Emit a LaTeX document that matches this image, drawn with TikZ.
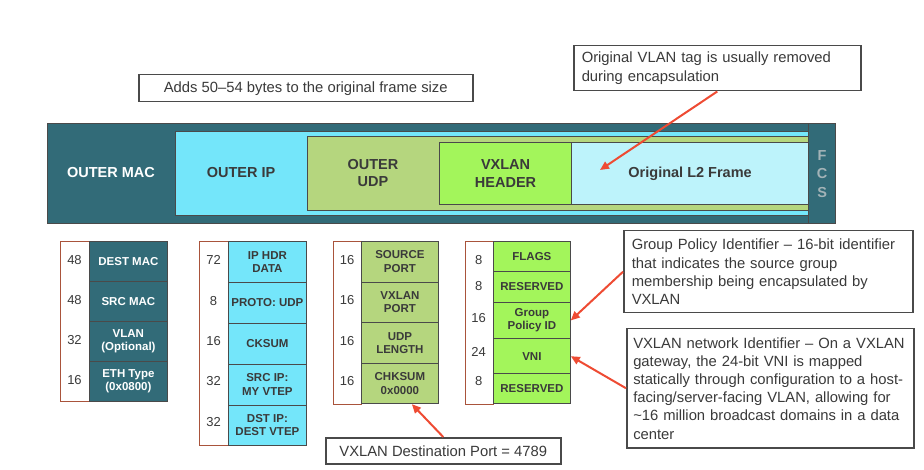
\documentclass[tikz,border=0pt]{standalone}
\usepackage{fontspec}
\setmainfont{Liberation Sans}
\usetikzlibrary{arrows.meta}
\definecolor{macteal}{HTML}{326B78}
\definecolor{ipcyan}{HTML}{74E6FA}
\definecolor{udpolive}{HTML}{B5D67E}
\definecolor{vxgreen}{HTML}{A3F55B}
\definecolor{lframe}{HTML}{BDF3FB}
\definecolor{notered}{HTML}{EE4B33}
\definecolor{bitsred}{HTML}{A9533B}
\definecolor{edgegray}{HTML}{4A4A4A}
\definecolor{textgray}{HTML}{3A3A3A}
\definecolor{fcsgray}{HTML}{A3B3B7}
\begin{document}
\begin{tikzpicture}
[x=1pt,y=-1pt,
  bardecorate/.style={draw=edgegray,line width=1.2pt,anchor=north west,inner sep=0pt},%
  barlabel/.style={font=\fontsize{14.5}{17.5}\selectfont\bfseries,text=textgray,align=center},%
  bitsdecorate/.style={draw=bitsred,line width=0.8pt,fill=white,anchor=north west,minimum width=29,inner sep=0pt},%
  celldecorate/.style={draw=edgegray,line width=0.8pt,anchor=north west,inner sep=0pt,align=center,
    font=\fontsize{11.5}{13.5}\selectfont\bfseries,text=textgray},%
  bitsnum/.style={font=\fontsize{13}{15}\selectfont,text=textgray},%
  notedecorate/.style={draw=edgegray,line width=1.5pt,fill=white,anchor=north west,
    font=\fontsize{14.8}{18.2}\selectfont,text=textgray},%
  arrowdecorate/.style={draw=notered,line width=2pt,-{Triangle[length=9pt,width=8pt]}}]
\useasboundingbox (0,0) rectangle (924,470);
%% the encapsulated frame, layer by layer
\node[bardecorate,fill=macteal,minimum width=788,minimum height=100] (frame) at (47,123) {};
\node[bardecorate,fill=ipcyan,minimum width=633,minimum height=84] (outerip) at (175,131) {};
\node[bardecorate,fill=udpolive,minimum width=501,minimum height=74] (outerudp) at (307,136) {};
\node[bardecorate,fill=vxgreen,minimum width=132,minimum height=62,barlabel] (vxheader) at (439,142) {VXLAN\\HEADER};
\node[bardecorate,fill=lframe,minimum width=237,minimum height=62,barlabel] (l2frame) at (571,142) {Original L2 Frame};
\node[bardecorate,fill=macteal,minimum width=27,minimum height=100,barlabel,text=fcsgray,
  font=\fontsize{14.5}{18.5}\selectfont\bfseries] (fcs) at (808,123) {F\\C\\S};
\node[barlabel,text=white] (maclabel) at (111,173) {OUTER MAC};
\node[barlabel] (iplabel) at (241,173) {OUTER IP};
\node[barlabel] (udplabel) at (373,173) {OUTER\\UDP};
%% outer MAC fields
\node[bitsdecorate,minimum height=160] (macbits) at (60,241) {};
\foreach \name/\rowtop/\rowh/\bits/\ny/\field in {mac1/241/40/48/260/DEST MAC,
  mac2/281/40/48/300/SRC MAC, mac3/321/40/32/340/VLAN\\(Optional),
  mac4/361/40/16/380/ETH Type\\(0x0800)}
{
  \node[celldecorate,fill=macteal,text=white,minimum width=78,minimum height=\rowh] (\name) at (89,\rowtop) {\field};
  \node[bitsnum] (\name-bits) at (74.5,\ny) {\bits};
}
%% outer IP fields
\node[bitsdecorate,minimum height=204] (ipbits) at (199,241) {};
\foreach \name/\rowtop/\rowh/\bits/\ny/\field in {ip1/241/41/72/260/IP HDR\\DATA,
  ip2/282/41/8/301/PROTO: UDP, ip3/323/41/16/341/CKSUM,
  ip4/364/40.5/32/381/SRC IP:\\MY VTEP, ip5/404.5/40.5/32/422/DST IP:\\DEST VTEP}
{
  \node[celldecorate,fill=ipcyan,minimum width=78,minimum height=\rowh] (\name) at (228,\rowtop) {\field};
  \node[bitsnum] (\name-bits) at (213.5,\ny) {\bits};
}
%% outer UDP fields
\node[bitsdecorate,minimum height=162.5,minimum width=28] (udpbits) at (333,241) {};
\foreach \name/\rowtop/\rowh/\bits/\ny/\field in {udp1/241/40.6/16/260/SOURCE\\PORT,
  udp2/281.6/40.6/16/300.5/VXLAN\\PORT, udp3/322.2/40.6/16/341/UDP\\LENGTH,
  udp4/362.8/40.6/16/381/CHKSUM\\0x0000}
{
  \node[celldecorate,fill=udpolive,minimum width=77,minimum height=\rowh] (\name) at (361,\rowtop) {\field};
  \node[bitsnum] (\name-bits) at (347,\ny) {\bits};
}
%% VXLAN header fields
\node[bitsdecorate,minimum height=162.5,minimum width=28.5] (vxbits) at (464.5,241) {};
\foreach \name/\rowtop/\rowh/\bits/\ny/\field in {vx1/241/30/8/260/FLAGS,
  vx2/271/30.7/8/286.5/RESERVED, vx3/301.7/36.6/16/318/Group\\Policy ID,
  vx4/338.3/35/24/352/VNI, vx5/373.3/30/8/381/RESERVED}
{
  \node[celldecorate,fill=vxgreen,minimum width=77,minimum height=\rowh] (\name) at (493,\rowtop) {\field};
  \node[bitsnum] (\name-bits) at (478.7,\ny) {\bits};
}
%% notes
\node[notedecorate,minimum width=334,minimum height=27] (sizenote) at (138,74) {Adds 50–54 bytes to the original frame size};
\node[notedecorate,minimum height=45,text width=271,inner xsep=8,align=left] (vlannote) at (573,45)
  {Original VLAN tag is usually removed\\during encapsulation};
\node[notedecorate,minimum height=82,text width=273,inner xsep=8,align=left] (gpnote) at (623,230)
  {Group Policy Identifier – 16-bit identifier\\that indicates the source group\\membership being encapsulated by\\VXLAN};
\node[notedecorate,minimum height=119,text width=274,inner xsep=6.5,align=left] (vninote) at (626,328)
  {VXLAN network Identifier – On a VXLAN\\gateway, the 24-bit VNI is mapped\\statically through configuration to a host-\\facing/server-facing VLAN, allowing for\\\textasciitilde16 million broadcast domains in a data\\center};
\node[notedecorate,minimum width=235,minimum height=26] (portnote) at (325,437) {VXLAN Destination Port = 4789};
%% pointers
\coordinate (l2tip) at (600,170);
\draw[arrowdecorate] (vlannote.south) -- (l2tip);
\draw[arrowdecorate] (gpnote.west) -- (vx3.east);
\draw[arrowdecorate] (vninote.west) -- (vx4.east);
\draw[arrowdecorate] (portnote.north) -- ([xshift=12pt]udp4.south);
\end{tikzpicture}
\end{document}
